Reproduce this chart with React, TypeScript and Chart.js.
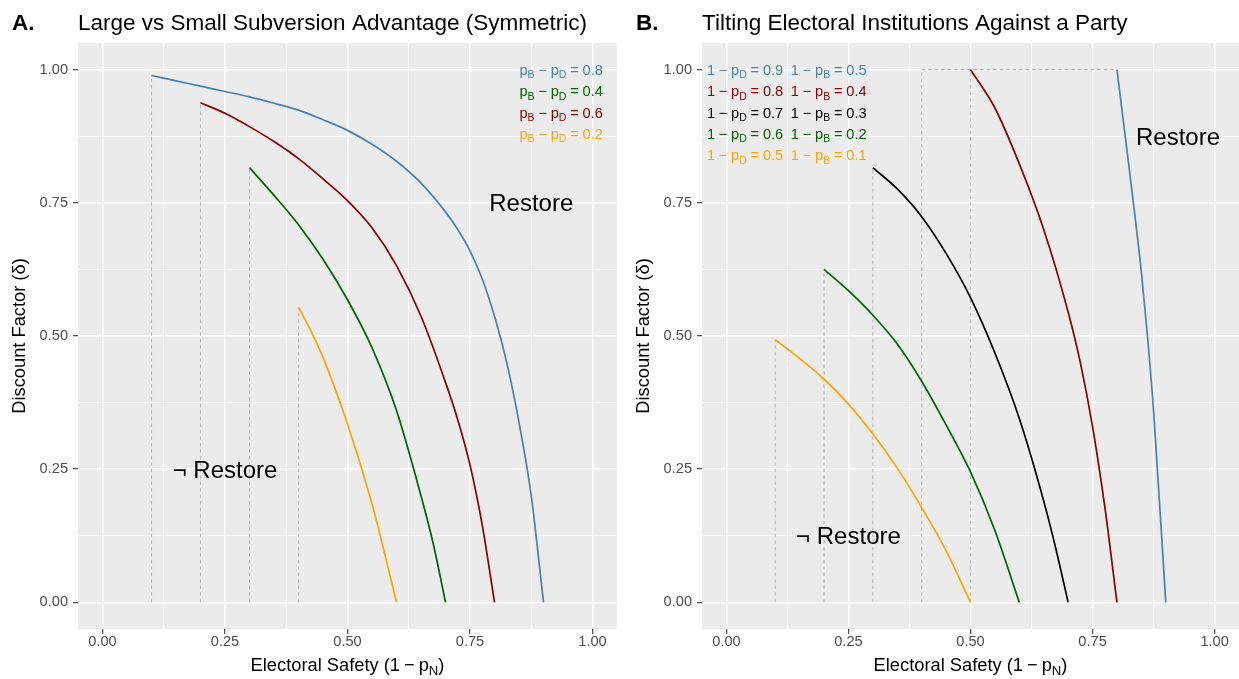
import React, { useEffect, useRef } from "react";
import { Chart, registerables } from "chart.js";

Chart.register(...registerables);

const FONT = "'Liberation Sans', Arial, Helvetica, sans-serif";

// ---------- axis ticks ----------
const majorTicks = [0, 0.25, 0.5, 0.75, 1];
const minorTicks = [0.125, 0.375, 0.625, 0.875];
const tickLabels = ["0.00", "0.25", "0.50", "0.75", "1.00"];

// ---------- Panel A: Large vs Small Subversion Advantage ----------
const aBlueX = [0.1, 0.15, 0.2, 0.25, 0.3, 0.35, 0.4, 0.45, 0.5, 0.55, 0.6, 0.65, 0.7, 0.725, 0.75, 0.775, 0.8, 0.825, 0.85, 0.875, 0.9];
const aBlueY = [0.989, 0.979, 0.969, 0.959, 0.949, 0.937, 0.924, 0.906, 0.886, 0.86, 0.828, 0.787, 0.733, 0.7, 0.66, 0.607, 0.537, 0.45, 0.338, 0.2, 0];
const aRedX = [0.2, 0.25, 0.3, 0.35, 0.4, 0.45, 0.5, 0.55, 0.6, 0.65, 0.7, 0.725, 0.75, 0.775, 0.8];
const aRedY = [0.938, 0.918, 0.893, 0.865, 0.833, 0.795, 0.754, 0.703, 0.632, 0.537, 0.413, 0.343, 0.258, 0.145, 0];
const aGreenX = [0.3, 0.35, 0.4, 0.45, 0.5, 0.55, 0.6, 0.65, 0.675, 0.7];
const aGreenY = [0.816, 0.764, 0.709, 0.644, 0.568, 0.478, 0.36, 0.2, 0.11, 0];
const aOrangeX = [0.4, 0.425, 0.45, 0.5, 0.55, 0.575, 0.6];
const aOrangeY = [0.554, 0.51, 0.46, 0.335, 0.185, 0.095, 0];
const aLegendValues = ["0.8", "0.4", "0.6", "0.2"];

// ---------- Panel B: Tilting Electoral Institutions ----------
const bOrangeX = [0.1, 0.15, 0.2, 0.25, 0.3, 0.35, 0.4, 0.45, 0.5];
const bOrangeY = [0.493, 0.458, 0.419, 0.372, 0.316, 0.252, 0.178, 0.097, 0];
const bGreenX = [0.2, 0.25, 0.3, 0.35, 0.4, 0.45, 0.5, 0.55, 0.6];
const bGreenY = [0.625, 0.585, 0.539, 0.485, 0.415, 0.333, 0.245, 0.135, 0];
const bBlackX = [0.3, 0.35, 0.4, 0.45, 0.5, 0.55, 0.6, 0.65, 0.675, 0.7];
const bBlackY = [0.816, 0.776, 0.724, 0.655, 0.572, 0.468, 0.345, 0.19, 0.1, 0];
const bRedX = [0.5, 0.55, 0.6, 0.65, 0.7, 0.725, 0.75, 0.775, 0.8];
const bRedY = [1.0, 0.928, 0.823, 0.7, 0.545, 0.45, 0.33, 0.18, 0];
const bBlueX = [0.8, 0.825, 0.85, 0.8625, 0.875, 0.9];
const bBlueY = [1.0, 0.815, 0.62, 0.5, 0.36, 0];
const bCapX = 0.4; // start of the capped (delta = 1) segment
const bLegendD = ["0.9", "0.8", "0.7", "0.6", "0.5"];
const bLegendB = ["0.5", "0.4", "0.3", "0.2", "0.1"];

// ---------- colours ----------
const BLUE = "#4682B4";
const RED = "#8B0000";
const GREEN = "#006400";
const ORANGE = "#FFA500";
const BLACK = "#000000";
const DASH = "#B8B8B8";

type Seg = { t: string; sub?: boolean } | { gap: number };

function drawRich(
  ctx: CanvasRenderingContext2D,
  segs: Seg[],
  x: number,
  y: number,
  size: number,
  color: string,
  align: "left" | "center"
) {
  const subSize = size * 0.72;
  const widths = segs.map((s) => {
    if ("gap" in s) return s.gap;
    ctx.font = `${s.sub ? subSize : size}px ${FONT}`;
    return ctx.measureText(s.t).width;
  });
  const total = widths.reduce((a, b) => a + b, 0);
  let cx = align === "center" ? x - total / 2 : x;
  ctx.fillStyle = color;
  ctx.textAlign = "left";
  ctx.textBaseline = "alphabetic";
  segs.forEach((s, i) => {
    if (!("gap" in s)) {
      ctx.font = `${s.sub ? subSize : size}px ${FONT}`;
      ctx.fillText(s.t, cx, s.sub ? y + size * 0.24 : y);
    }
    cx += widths[i];
  });
}

const G = 3.8;
const diffLabel = (v: string): Seg[] => [
  { t: "p" }, { t: "B", sub: true }, { gap: G }, { t: "\u2212" }, { gap: G },
  { t: "p" }, { t: "D", sub: true }, { gap: G }, { t: "=" }, { gap: G }, { t: v },
];
const oneMinus = (who: string, v: string): Seg[] => [
  { t: "1" }, { gap: G }, { t: "\u2212" }, { gap: G },
  { t: "p" }, { t: who, sub: true }, { gap: G }, { t: "=" }, { gap: G }, { t: v },
];

interface Series { x: number[]; y: number[]; color: string }
interface PanelSpec {
  plotLeft: number;
  padRight: number;
  letter: string;
  title: string;
  series: Series[];
  dashes: { x: number[]; y: number[] }[];
  annotate: (ctx: CanvasRenderingContext2D, px: (v: number) => number, py: (v: number) => number) => void;
}

const LEG = 14.6;
const BIG = 24;

function drawRestore(ctx: CanvasRenderingContext2D, text: string, x: number, y: number) {
  ctx.font = `${BIG}px ${FONT}`;
  ctx.fillStyle = "#000";
  ctx.textAlign = "center";
  ctx.textBaseline = "alphabetic";
  ctx.fillText(text, x, y + BIG * 0.36);
}

const panelA: PanelSpec = {
  plotLeft: 78,
  padRight: 3,
  letter: "A.",
  title: "Large vs Small Subversion Advantage (Symmetric)",
  series: [
    { x: aBlueX, y: aBlueY, color: BLUE },
    { x: aRedX, y: aRedY, color: RED },
    { x: aGreenX, y: aGreenY, color: GREEN },
    { x: aOrangeX, y: aOrangeY, color: ORANGE },
  ],
  dashes: [aBlueX, aRedX, aGreenX, aOrangeX].map((xs, i) => ({
    x: [xs[0], xs[0]],
    y: [0, [aBlueY, aRedY, aGreenY, aOrangeY][i][0]],
  })),
  annotate: (ctx, px, py) => {
    const cols = [BLUE, GREEN, RED, ORANGE];
    aLegendValues.forEach((v, i) => {
      drawRich(ctx, diffLabel(v), px(0.851), py(1 - 0.04 * i) + LEG * 0.36, LEG, cols[i], "left");
    });
    drawRestore(ctx, "Restore", px(0.875), py(0.75));
    drawRestore(ctx, "\u00AC Restore", px(0.25), py(0.25));
  },
};

const panelB: PanelSpec = {
  plotLeft: 82,
  padRight: 0,
  letter: "B.",
  title: "Tilting Electoral Institutions Against a Party",
  series: [
    { x: bBlueX, y: bBlueY, color: BLUE },
    { x: bRedX, y: bRedY, color: RED },
    { x: bBlackX, y: bBlackY, color: BLACK },
    { x: bGreenX, y: bGreenY, color: GREEN },
    { x: bOrangeX, y: bOrangeY, color: ORANGE },
  ],
  dashes: [
    { x: [bOrangeX[0], bOrangeX[0]], y: [0, bOrangeY[0]] },
    { x: [bGreenX[0], bGreenX[0]], y: [0, bGreenY[0]] },
    { x: [bBlackX[0], bBlackX[0]], y: [0, bBlackY[0]] },
    { x: [bCapX, bCapX], y: [0, bRedY[0]] },
    { x: [bRedX[0], bRedX[0]], y: [0, bRedY[0]] },
    { x: [bCapX, bBlueX[0]], y: [bRedY[0], bBlueY[0]] },
  ],
  annotate: (ctx, px, py) => {
    const cols = [BLUE, RED, BLACK, GREEN, ORANGE];
    bLegendD.forEach((v, i) => {
      drawRich(ctx, oneMinus("D", v), px(-0.04), py(1 - 0.04 * i) + LEG * 0.36, LEG, cols[i], "left");
    });
    bLegendB.forEach((v, i) => {
      drawRich(ctx, oneMinus("B", v), px(0.132), py(1 - 0.04 * i) + LEG * 0.36, LEG, cols[i], "left");
    });
    drawRestore(ctx, "Restore", px(0.925), py(0.875));
    drawRestore(ctx, "\u00AC Restore", px(0.25), py(0.125));
  },
};

const allTicks = [...majorTicks, ...minorTicks].sort((a, b) => a - b);
const isMajor = (v: any) => majorTicks.some((m) => Math.abs(m - Number(v)) < 1e-9);

function axisOptions(isX: boolean, spec: PanelSpec) {
  return {
    type: "linear" as const,
    min: -0.05,
    max: 1.05,
    border: { display: false },
    afterBuildTicks: (scale: any) => {
      scale.ticks = allTicks.map((v) => ({ value: v }));
    },
    afterFit: (scale: any) => {
      if (isX) scale.height = 50;
      else scale.width = spec.plotLeft;
    },
    grid: {
      color: "#FFFFFF",
      lineWidth: (c: any) => (isMajor(c.tick?.value) ? 1.4 : 0.7),
      tickColor: (c: any) => (isMajor(c.tick?.value) ? "#333333" : "rgba(0,0,0,0)"),
      tickWidth: 1.1,
      tickLength: 5,
      drawTicks: true,
      drawOnChartArea: true,
    },
    ticks: {
      autoSkip: false,
      maxRotation: 0,
      minRotation: 0,
      padding: isX ? 1 : 5,
      color: "#4D4D4D",
      font: { family: FONT, size: 14.6, lineHeight: 1 },
      callback: (value: any) => {
        const i = majorTicks.findIndex((m) => Math.abs(m - Number(value)) < 1e-9);
        return i >= 0 ? tickLabels[i] : "";
      },
    },
  };
}

function buildConfig(spec: PanelSpec): any {
  const curveSets = spec.series.map((s) => ({
    data: s.x.map((x, i) => ({ x, y: s.y[i] })),
    borderColor: s.color,
    borderWidth: 1.7,
    pointRadius: 0,
    fill: false,
    cubicInterpolationMode: "monotone",
  }));
  const dashSets = spec.dashes.map((d) => ({
    data: d.x.map((x, i) => ({ x, y: d.y[i] })),
    borderColor: DASH,
    borderWidth: 1.1,
    borderDash: [3.5, 3],
    pointRadius: 0,
    fill: false,
  }));
  const bg = {
    id: "panelBg",
    beforeDraw(chart: any) {
      const { ctx, chartArea: a } = chart;
      ctx.save();
      ctx.fillStyle = "#EBEBEB";
      ctx.fillRect(a.left, a.top, a.right - a.left, a.bottom - a.top);
      ctx.restore();
    },
  };
  const texts = {
    id: "panelTexts",
    afterDraw(chart: any) {
      const { ctx, chartArea: a } = chart;
      const sx = chart.scales.x;
      const sy = chart.scales.y;
      ctx.save();
      ctx.beginPath();
      ctx.rect(a.left, a.top, a.right - a.left, a.bottom - a.top);
      ctx.clip();
      spec.annotate(ctx, (v) => sx.getPixelForValue(v), (v) => sy.getPixelForValue(v));
      ctx.restore();

      ctx.save();
      ctx.fillStyle = "#000";
      ctx.textBaseline = "alphabetic";
      ctx.textAlign = "left";
      ctx.font = `bold 22.5px ${FONT}`;
      ctx.fillText(spec.letter, spec.plotLeft - 66, 30);
      ctx.font = `22.5px ${FONT}`;
      ctx.fillText(spec.title, spec.plotLeft, 30);

      // y-axis title
      ctx.save();
      ctx.translate(spec.plotLeft - 53, (a.top + a.bottom) / 2);
      ctx.rotate(-Math.PI / 2);
      ctx.textAlign = "center";
      ctx.font = `18.3px ${FONT}`;
      ctx.fillText("Discount Factor (\u03B4)", 0, 0);
      ctx.restore();

      // x-axis title
      drawRich(
        ctx,
        [
          { t: "Electoral Safety (1" }, { gap: 4 }, { t: "\u2212" }, { gap: 4 },
          { t: "p" }, { t: "N", sub: true }, { t: ")" },
        ],
        (a.left + a.right) / 2,
        671,
        18.3,
        "#000",
        "center"
      );
      ctx.restore();
    },
  };
  return {
    type: "line",
    data: { datasets: [...curveSets, ...dashSets] },
    options: {
      animation: false,
      responsive: false,
      maintainAspectRatio: false,
      devicePixelRatio: 1,
      parsing: false,
      layout: { padding: { top: 43, right: spec.padRight, left: 0, bottom: 0 } },
      plugins: { legend: { display: false }, tooltip: { enabled: false }, title: { display: false } },
      elements: { point: { radius: 0 } },
      scales: { x: axisOptions(true, spec), y: axisOptions(false, spec) },
    },
    plugins: [bg, texts],
  };
}

export default function App() {
  const refA = useRef<HTMLCanvasElement>(null);
  const refB = useRef<HTMLCanvasElement>(null);
  useEffect(() => {
    document.body.style.margin = "0";
    const a = new Chart(refA.current as HTMLCanvasElement, buildConfig(panelA));
    const b = new Chart(refB.current as HTMLCanvasElement, buildConfig(panelB));
    return () => {
      a.destroy();
      b.destroy();
    };
  }, []);
  return (
    <div style={{ position: "fixed", left: 0, top: 0, width: 1239, height: 679, overflow: "hidden", background: "#fff" }}>
      <canvas ref={refA} width={620} height={679} style={{ position: "absolute", left: 0, top: 0, width: 620, height: 679 }} />
      <canvas ref={refB} width={619} height={679} style={{ position: "absolute", left: 620, top: 0, width: 619, height: 679 }} />
    </div>
  );
}
